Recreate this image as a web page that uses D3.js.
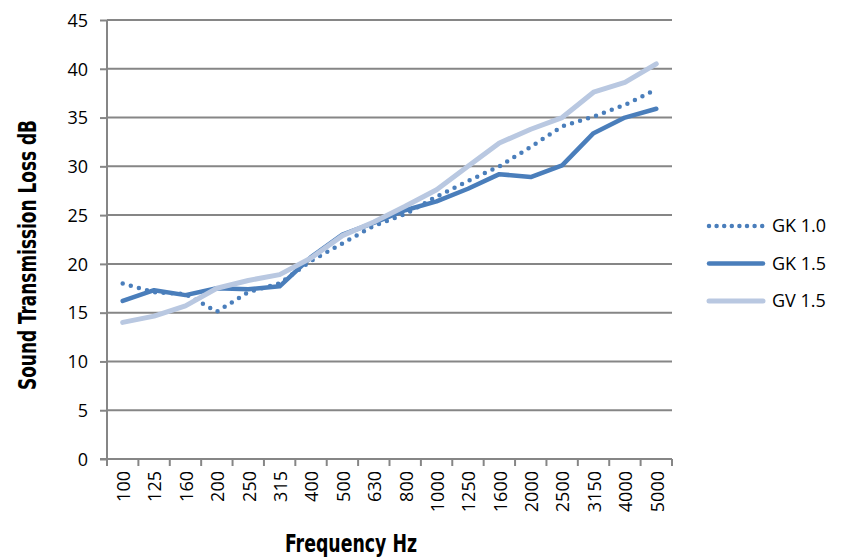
<!DOCTYPE html>
<html>
<head>
<meta charset="utf-8">
<script src="https://cdn.jsdelivr.net/npm/d3@7"></script>
<style>
  html, body { margin: 0; padding: 0; background: #fff; }
  svg { display: block; }
  .tick-label { font-family: "Open Sans", sans-serif; font-size: 18px; fill: #000; }
  .title { font-family: "DejaVu Sans Condensed", "DejaVu Sans", sans-serif; font-weight: bold; font-size: 24px; fill: #000; }
</style>
</head>
<body>
<script>
// Frequency bands (Hz)
const frequencies = ["100", "125", "160", "200", "250", "315", "400", "500", "630", "800",
  "1000", "1250", "1600", "2000", "2500", "3150", "4000", "5000"];

// Sound transmission loss (dB) per panel type
const gk10 = [18.0, 17.1, 16.9, 15.1, 17.1, 18.0, 20.3, 22.1, 23.9, 25.1, 26.9, 28.5, 30.0, 32.0, 34.1, 35.1, 36.3, 37.9];
const gk15 = [16.2, 17.3, 16.8, 17.5, 17.4, 17.7, 20.7, 23.0, 24.2, 25.5, 26.4, 27.7, 29.2, 28.9, 30.1, 33.4, 35.0, 35.9];
const gv15 = [14.0, 14.65, 15.7, 17.5, 18.3, 18.9, 20.6, 22.9, 24.3, 25.9, 27.6, 30.0, 32.4, 33.8, 35.0, 37.6, 38.6, 40.5];

const seriesNames = ["GK 1.0", "GK 1.5", "GV 1.5"];
const yTicks = [0, 5, 10, 15, 20, 25, 30, 35, 40, 45];

const series = [
  { name: seriesNames[0], values: gk10, color: "#4a7ebb", width: 4.5, dash: "0 8.4" },
  { name: seriesNames[1], values: gk15, color: "#4a7ebb", width: 4.5, dash: null },
  { name: seriesNames[2], values: gv15, color: "#b9c8e1", width: 5, dash: null }
];

const W = 841, H = 560;
const plot = { left: 107, right: 672, top: 20, bottom: 459 };
const axisColor = "#868686";

const svg = d3.select("body").append("svg").attr("width", W).attr("height", H);

const x = d3.scaleBand().domain(frequencies).range([plot.left, plot.right]).padding(0);
const y = d3.scaleLinear().domain([0, 45]).range([plot.bottom, plot.top]);

// Horizontal gridlines
svg.append("g").selectAll("line").data(yTicks.slice(1)).join("line")
  .attr("x1", plot.left).attr("x2", plot.right)
  .attr("y1", d => y(d)).attr("y2", d => y(d))
  .attr("stroke", axisColor).attr("stroke-width", 2);

// Y axis
const yAxis = svg.append("g").attr("transform", `translate(${plot.left},0)`)
  .call(d3.axisLeft(y).tickValues(yTicks).tickSize(7).tickPadding(12));
yAxis.select(".domain").attr("stroke", axisColor).attr("stroke-width", 2)
  .attr("d", `M0,${plot.top}V${plot.bottom + 7}`);
yAxis.selectAll(".tick line").attr("stroke", axisColor).attr("stroke-width", 2);
yAxis.selectAll(".tick text").attr("class", "tick-label").attr("dy", "0.35em");

// X axis: ticks on band boundaries, labels at band centres
const xg = svg.append("g");
xg.append("line")
  .attr("x1", plot.left - 7).attr("x2", plot.right)
  .attr("y1", plot.bottom).attr("y2", plot.bottom)
  .attr("stroke", axisColor).attr("stroke-width", 2);
const bounds = frequencies.map(f => x(f)).concat([x(frequencies[frequencies.length - 1]) + x.bandwidth()]);
xg.selectAll("line.tk").data(bounds).join("line").attr("class", "tk")
  .attr("x1", d => d).attr("x2", d => d)
  .attr("y1", plot.bottom).attr("y2", plot.bottom + 7)
  .attr("stroke", axisColor).attr("stroke-width", 2);
xg.selectAll("text").data(frequencies).join("text")
  .attr("class", "tick-label")
  .attr("transform", d => `translate(${x(d) + x.bandwidth() / 2 + 1},${plot.bottom + 12}) rotate(-90)`)
  .attr("text-anchor", "end")
  .attr("dy", "0.35em")
  .text(d => d);

// Series lines
const line = d3.line()
  .x((d, i) => x(frequencies[i]) + x.bandwidth() / 2)
  .y(d => y(d));

svg.append("g").selectAll("path").data(series).join("path")
  .attr("d", d => line(d.values))
  .attr("fill", "none")
  .attr("stroke", d => d.color)
  .attr("stroke-width", d => d.width)
  .attr("stroke-linecap", "round")
  .attr("stroke-linejoin", "round")
  .attr("stroke-dasharray", d => d.dash);

// Axis titles
svg.append("text").attr("class", "title")
  .attr("x", 351).attr("y", 552)
  .attr("text-anchor", "middle")
  .attr("textLength", 132).attr("lengthAdjust", "spacingAndGlyphs")
  .text("Frequency Hz");

svg.append("text").attr("class", "title")
  .attr("transform", "translate(36,255) rotate(-90)")
  .attr("text-anchor", "middle")
  .attr("textLength", 270).attr("lengthAdjust", "spacingAndGlyphs")
  .text("Sound Transmission Loss dB");

// Legend
const legend = svg.append("g").attr("transform", "translate(707,226)");
const rows = legend.selectAll("g").data(series).join("g")
  .attr("transform", (d, i) => `translate(0,${i * 37.5})`);
rows.append("line")
  .attr("x1", 2).attr("x2", 56).attr("y1", 0).attr("y2", 0)
  .attr("stroke", d => d.color)
  .attr("stroke-width", d => d.width)
  .attr("stroke-linecap", "round")
  .attr("stroke-dasharray", d => d.dash ? "0 7.6" : null);
rows.append("text").attr("class", "tick-label")
  .attr("x", 65).attr("y", 0).attr("dy", "0.35em")
  .text(d => d.name);
</script>
</body>
</html>
